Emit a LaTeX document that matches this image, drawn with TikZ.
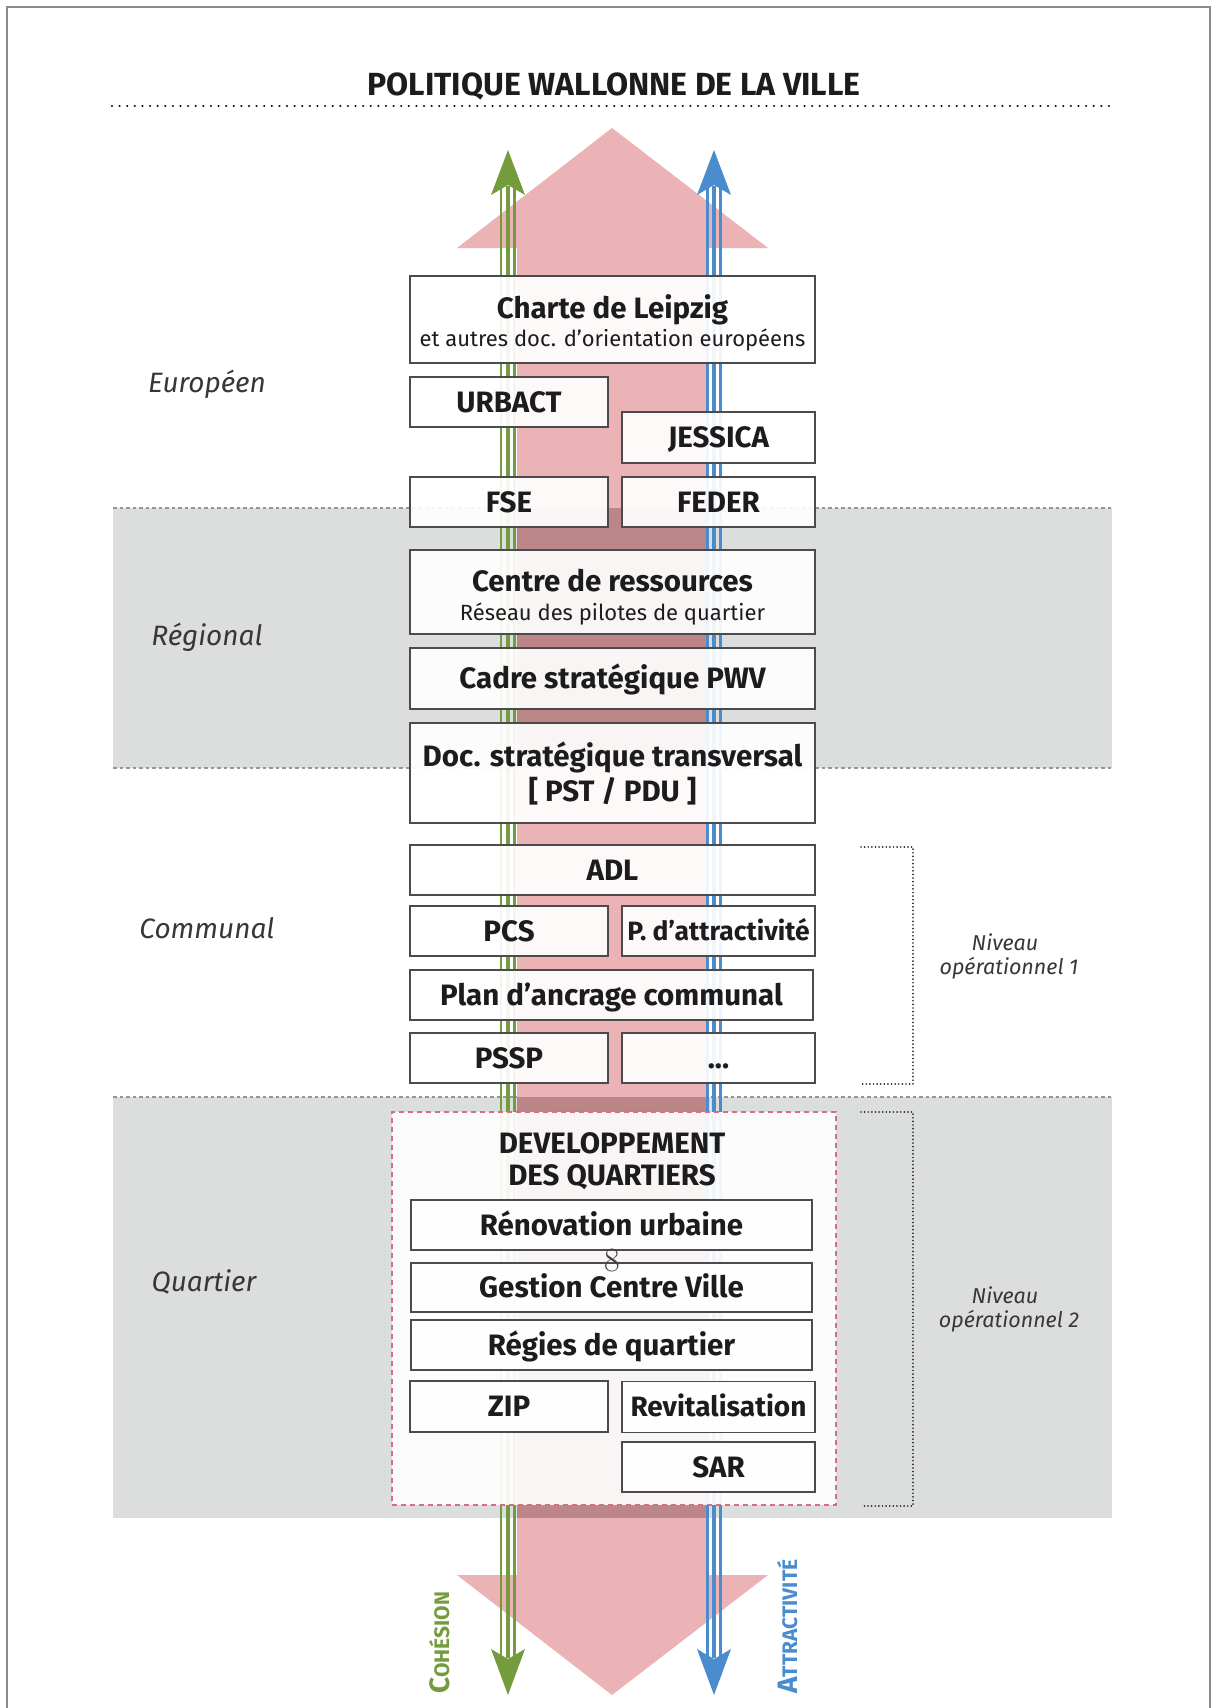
\documentclass[tikz,border=0pt]{standalone}
\usepackage{fontspec}
\newfontfamily\dinfont{Fira Sans}
\usetikzlibrary{calc}

\definecolor{pinkc}{RGB}{235,179,181}
\definecolor{pinkdark}{RGB}{188,134,136}
\definecolor{bandgray}{RGB}{220,221,221}
\definecolor{greenc}{RGB}{116,156,60}
\definecolor{bluec}{RGB}{74,140,205}
\definecolor{boxline}{RGB}{75,75,75}
\definecolor{txt}{RGB}{28,28,28}
\definecolor{lbl}{RGB}{55,55,55}
\definecolor{reddash}{RGB}{214,110,130}
\definecolor{framec}{RGB}{140,140,140}
\definecolor{edgec}{RGB}{150,150,150}

\newcommand\myfBox{\dinfont\bfseries\fontsize{29.5}{32}\selectfont}
\newcommand\myfBoxS{\dinfont\bfseries\fontsize{26.5}{29}\selectfont}
\newcommand\myfBoxM{\dinfont\bfseries\fontsize{28}{30}\selectfont}
\newcommand\myfSub{\dinfont\fontsize{22}{24}\selectfont}
\newcommand\myfSide{\dinfont\itshape\fontsize{28}{30}\selectfont}
\newcommand\myfNiv{\dinfont\itshape\fontsize{21.5}{24}\selectfont}
\newcommand\myfTitle{\dinfont\bfseries\fontsize{32}{34}\selectfont}

\begin{document}
\begin{tikzpicture}[x=1pt,y=-1pt,
  pbox/.style={draw=boxline, line width=1.6pt, fill=white, fill opacity=0.92, text opacity=1,
    text=txt, inner sep=0pt, font=\myfBox, text height=20pt, text depth=0pt, anchor=center},
  ptext/.style={inner sep=0pt, text=txt, anchor=base},
  sidelbl/.style={inner sep=0pt, text=lbl, font=\myfSide, anchor=base},
  nivlbl/.style={inner sep=0pt, text=lbl, font=\myfNiv, anchor=base},
  bandedge/.style={edgec, line width=1.3pt, dash pattern=on 3.5pt off 3pt},
  dotline/.style={black, line width=2.5pt, line cap=round, dash pattern=on 0.01pt off 7.6pt},
  bracket/.style={black!85, line width=1.8pt, line cap=round, dash pattern=on 0.01pt off 3.6pt}
]
\useasboundingbox (0,0) rectangle (1217,1708);
\fill[white] (0,0) rectangle (1217,1708);

% frame
\draw[framec, line width=2pt] (7,1730) -- (7,7) -- (1210,7) -- (1210,1730);

% title
\node[ptext, font=\myfTitle] (title) at (614,95) {POLITIQUE WALLONNE DE LA VILLE};
\coordinate (dlA) at (112,106);
\coordinate (dlB) at (1113,106);
\draw[dotline] (dlA) -- (dlB);

% bands
\fill[bandgray] (113,508) rectangle (1112,768);
\fill[bandgray] (113,1097) rectangle (1112,1518);
\draw[bandedge] (113,508) -- (1112,508);
\draw[bandedge] (113,768) -- (1112,768);
\draw[bandedge] (113,1097) -- (1112,1097);

% big pink arrow
\fill[pinkc] (457,248) -- (612,128) -- (768,248) -- (707,248) -- (707,1575)
  -- (768,1575) -- (612,1695) -- (457,1575) -- (517,1575) -- (517,248) -- cycle;
\fill[pinkdark] (517,508) rectangle (707,768);
\fill[pinkdark] (517,1097) rectangle (707,1518);

% green arrow
\coordinate (gTop) at (508,186);
\coordinate (gBot) at (508,1658);
\foreach \dx/\w in {-7/2.4, 0/3.6, 6.5/3.2}
  \draw[greenc, line width=\w pt] ($(gTop)+(\dx,0)$) -- ($(gBot)+(\dx,0)$);
\fill[greenc] (508,150) -- (525,195) -- (508,185) -- (491,195) -- cycle;
\fill[greenc] (508,1695) -- (525,1649) -- (508,1659) -- (491,1649) -- cycle;

% blue arrow
\coordinate (bTop) at (714,186);
\coordinate (bBot) at (714,1658);
\foreach \dx/\w in {-6.5/2.8, 0/3.4, 6.5/2.8}
  \draw[bluec, line width=\w pt] ($(bTop)+(\dx,0)$) -- ($(bBot)+(\dx,0)$);
\fill[bluec] (714,150) -- (731,195) -- (714,185) -- (697,195) -- cycle;
\fill[bluec] (714,1695) -- (731,1649) -- (714,1659) -- (697,1649) -- cycle;

% vertical labels
\node[rotate=90, anchor=base west, inner sep=0pt, text=greenc] (coh) at (449,1694)
  {\dinfont\bfseries\fontsize{28}{28}\selectfont C\fontsize{21}{21}\selectfont OHÉSION};
\node[rotate=90, anchor=base west, inner sep=0pt, text=bluec] (attr) at (797,1694)
  {\dinfont\bfseries\fontsize{28}{28}\selectfont A\fontsize{21}{21}\selectfont TTRACTIVITÉ};

% European level
\node[pbox, minimum width=405pt, minimum height=87pt] (charte) at (612.5,319.5) {};
\node[ptext, font=\myfBox] (charteA) at (612.5,318) {Charte de Leipzig};
\node[ptext, font=\myfSub] (charteB) at (612.5,346) {et autres doc. d’orientation européens};
\node[pbox, minimum width=198pt, minimum height=50pt] (urbact) at (509,402) {URBACT};
\node[pbox, minimum width=193pt, minimum height=51pt] (jessica) at (718.5,437.5) {JESSICA};
\node[pbox, minimum width=198pt, minimum height=50pt] (fse) at (509,502) {FSE};
\node[pbox, minimum width=193pt, minimum height=50pt] (feder) at (718.5,502) {FEDER};

% Regional
\node[pbox, minimum width=405pt, minimum height=84pt] (centre) at (612.5,592) {};
\node[ptext, font=\myfBox] (centreA) at (612.5,591) {Centre de ressources};
\node[ptext, font=\myfSub] (centreB) at (612.5,620) {Réseau des pilotes de quartier};
\node[pbox, minimum width=405pt, minimum height=61pt] (cadre) at (612.5,678.5) {Cadre stratégique PWV};
\node[pbox, minimum width=405pt, minimum height=100pt] (doc) at (612.5,773) {};
\node[ptext, font=\myfBox] (docA) at (612.5,766) {Doc. stratégique transversal};
\node[ptext, font=\myfBox] (docB) at (612.5,801) {[ PST / PDU ]};

% Communal
\node[pbox, minimum width=405pt, minimum height=50pt] (adl) at (612.5,870) {ADL};
\node[pbox, minimum width=198pt, minimum height=50pt] (pcs) at (509,931) {PCS};
\node[pbox, minimum width=193pt, minimum height=50pt, font=\myfBoxS, text height=18pt] (pattr) at (718.5,931) {P. d’attractivité};
\node[pbox, minimum width=403pt, minimum height=50pt] (plan) at (611.5,995) {Plan d’ancrage communal};
\node[pbox, minimum width=198pt, minimum height=50pt] (pssp) at (509,1058) {PSSP};
\node[pbox, minimum width=193pt, minimum height=50pt] (etc) at (718.5,1058) {...};

% Quartier
\node[draw=reddash, line width=1.3pt, dash pattern=on 5pt off 4pt, fill=white, fill opacity=0.92,
  minimum width=444pt, minimum height=393pt, inner sep=0pt] (dev) at (614,1308.5) {};
\node[ptext, font=\myfBox] (devA) at (612,1153) {DEVELOPPEMENT};
\node[ptext, font=\myfBox] (devB) at (612,1185) {DES QUARTIERS};
\node[pbox, minimum width=401pt, minimum height=50pt] (renov) at (611.5,1225) {Rénovation urbaine};
\node[pbox, minimum width=401pt, minimum height=49pt] (gestion) at (611.5,1287.5) {Gestion Centre Ville};
\node[pbox, minimum width=401pt, minimum height=50pt] (regies) at (611.5,1345) {Régies de quartier};
\node[pbox, minimum width=198pt, minimum height=51pt] (zip) at (509,1406.5) {ZIP};
\node[pbox, minimum width=193pt, minimum height=51pt, font=\myfBoxM, text height=19pt] (revit) at (718.5,1407) {Revitalisation};
\node[pbox, minimum width=193pt, minimum height=50pt] (sar) at (718.5,1467) {SAR};
\node[inner sep=0pt, text=black!75, font=\fontsize{34}{34}\selectfont, anchor=base, text height=22pt, text depth=0pt] (pageno) at (612,1271) {8};

% side labels
\node[sidelbl] (eu) at (207,392) {Européen};
\node[sidelbl] (reg) at (207,645) {Régional};
\node[sidelbl] (com) at (207,938) {Communal};
\node[sidelbl] (qua) at (204,1291) {Quartier};

% brackets
\coordinate (b1a) at (861,847);
\coordinate (b1b) at (913,847);
\coordinate (b1c) at (913,1084);
\coordinate (b1d) at (861,1084);
\draw[bracket] (b1a) -- (b1b) -- (b1c) -- (b1d);
\coordinate (b2a) at (861,1112);
\coordinate (b2b) at (913,1112);
\coordinate (b2c) at (913,1506);
\coordinate (b2d) at (861,1506);
\draw[bracket] (b2a) -- (b2b) -- (b2c) -- (b2d);
\node[nivlbl] (niv1a) at (1005,950) {Niveau};
\node[nivlbl] (niv1b) at (1009,974) {opérationnel 1};
\node[nivlbl] (niv2a) at (1005,1303) {Niveau};
\node[nivlbl] (niv2b) at (1009,1327) {opérationnel 2};
\end{tikzpicture}
\end{document}
